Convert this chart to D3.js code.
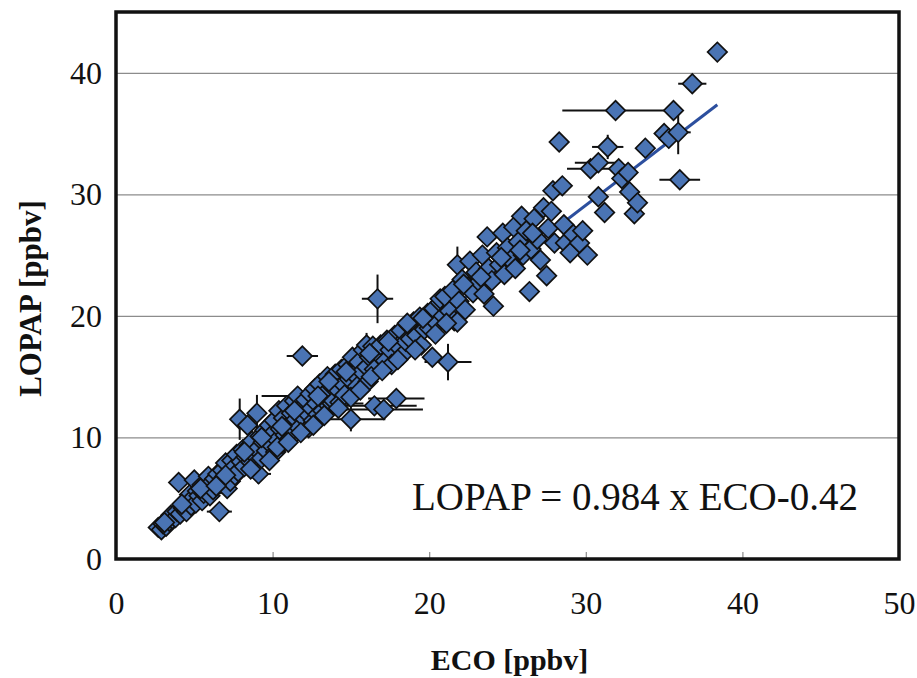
<!DOCTYPE html>
<html>
<head>
<meta charset="utf-8">
<script src="https://cdn.jsdelivr.net/npm/d3@7"></script>
<style>
  body { margin: 0; background: #fff; }
  text { font-family: "Liberation Serif", "Times New Roman", serif; fill: #111; }
</style>
</head>
<body>
<div id="chart"></div>
<script>
// ECO vs LOPAP values (ppbv); error bars only where they show
var eco = [2.7, 2.9, 3.0, 3.2, 3.4, 3.6, 3.5, 3.8, 3.9, 4.0, 4.1, 4.3, 4.4, 4.5, 4.6, 4.7, 4.8, 4.9, 5.0, 5.1,
  5.2, 5.3, 5.5, 5.5, 5.6, 5.8, 5.9, 6.0, 6.1, 6.2, 6.3, 6.5, 6.6, 6.7, 6.8, 6.9, 7.0, 7.1, 7.2, 7.3,
  7.4, 7.5, 7.6, 7.7, 7.8, 7.9, 8.0, 8.1, 8.2, 8.3, 8.4, 8.5, 8.6, 8.7, 8.8, 9.0, 9.0, 9.1, 9.2, 9.3,
  9.4, 9.5, 9.6, 9.7, 9.8, 9.9, 10.0, 10.1, 10.2, 10.3, 10.4, 10.5, 10.6, 10.7, 10.8, 10.9, 11.0, 11.1, 11.2, 11.3,
  11.4, 11.5, 11.6, 11.7, 11.8, 11.9, 12.0, 12.1, 12.2, 12.3, 12.4, 12.5, 12.6, 12.7, 12.8, 12.9, 13.0, 13.1, 13.2, 13.4,
  13.5, 13.6, 13.8, 13.8, 13.9, 14.0, 14.1, 14.3, 14.4, 14.5, 14.6, 14.8, 14.9, 15.0, 15.1, 15.2, 15.4, 15.5, 15.7, 15.8,
  16.0, 16.0, 16.1, 16.2, 16.4, 16.5, 16.5, 16.7, 16.8, 16.9, 17.1, 17.2, 17.3, 17.5, 17.6, 17.8, 17.9, 18.0, 18.2, 18.3,
  18.5, 18.7, 18.8, 19.0, 19.2, 19.4, 19.5, 19.7, 19.9, 20.0, 20.2, 20.3, 20.5, 20.7, 20.7, 20.9, 21.0, 21.2, 21.3, 21.5,
  21.6, 21.8, 21.8, 21.9, 22.1, 22.3, 22.5, 22.6, 22.8, 23.0, 23.2, 23.4, 23.5, 23.7, 23.8, 24.0, 24.1, 24.3, 24.5, 24.7,
  24.8, 25.0, 25.2, 25.4, 25.5, 25.7, 25.9, 26.0, 26.2, 26.4, 26.5, 26.7, 26.9, 27.1, 27.3, 27.5, 27.6, 27.9, 28.0, 28.3,
  28.5, 28.6, 28.7, 29.0, 29.2, 29.6, 29.8, 30.1, 30.3, 30.8, 30.8, 31.2, 31.4, 31.9, 32.1, 32.3, 32.7, 32.8, 33.1, 33.3,
  33.8, 35.0, 35.3, 35.6, 35.9, 36.0, 36.8, 38.4,
  3.1, 4.2, 5.4, 6.4, 7.0, 8.2, 9.3, 10.6, 11.4, 12.9, 13.6, 14.7, 16.2, 17.4, 18.6, 19.6, 22.2, 23.3, 24.6, 25.8, 26.6, 27.8,
  8.6, 9.8, 10.3, 11.0, 11.8, 12.6, 13.3, 14.2, 15.0, 15.6, 16.3, 17.0, 18.0, 19.1, 20.4, 21.1];
var lopap = [2.6, 2.4, 2.9, 2.7, 3.1, 3.3, 3.6, 3.4, 3.9, 6.3, 3.7, 4.2, 4.6, 3.9, 4.8, 5.3, 4.4, 5.0, 6.5, 4.6,
  5.6, 5.2, 6.1, 4.8, 5.4, 5.9, 6.8, 5.2, 6.3, 5.7, 6.6, 7.0, 3.9, 6.2, 7.3, 6.7, 7.9, 5.8, 7.0, 6.4,
  8.1, 7.5, 6.9, 8.6, 7.2, 11.5, 8.0, 9.0, 7.6, 8.4, 11.0, 9.3, 8.0, 9.7, 8.6, 12.0, 9.0, 7.0, 10.1, 8.3,
  9.6, 10.6, 8.9, 9.9, 11.0, 9.4, 10.3, 11.4, 8.8, 9.8, 12.2, 10.7, 9.5, 11.6, 10.2, 12.6, 11.0, 9.9, 12.0, 10.6,
  13.0, 11.5, 13.4, 10.8, 12.4, 16.7, 11.6, 13.1, 12.0, 10.8, 13.6, 12.4, 11.4, 14.0, 12.8, 11.9, 14.4, 13.2, 12.2, 13.7,
  15.0, 12.6, 14.2, 12.8, 13.0, 15.2, 14.0, 12.9, 15.6, 14.4, 13.5, 16.0, 14.8, 11.5, 16.6, 15.2, 14.2, 16.2, 15.4, 17.2,
  15.8, 17.6, 14.6, 16.6, 17.5, 15.6, 12.6, 21.4, 16.8, 17.6, 12.3, 16.3, 18.0, 17.2, 16.0, 18.4, 13.2, 17.5, 18.8, 16.8,
  17.9, 19.2, 18.1, 19.5, 18.4, 19.9, 17.6, 18.9, 20.2, 19.0, 16.6, 20.6, 19.4, 21.1, 21.4, 20.0, 21.6, 16.2, 20.4, 22.1,
  19.6, 24.2, 19.5, 21.2, 23.0, 20.5, 22.4, 24.5, 21.9, 23.6, 22.8, 25.0, 21.8, 26.5, 23.9, 22.9, 20.8, 25.2, 24.2, 26.8,
  23.4, 25.6, 24.6, 27.3, 23.9, 26.1, 28.2, 25.0, 27.0, 22.0, 25.5, 28.0, 26.3, 24.6, 28.9, 23.3, 27.2, 30.3, 26.0, 34.3,
  30.7, 27.5, 26.0, 25.2, 26.7, 26.0, 27.0, 25.0, 32.1, 32.6, 29.8, 28.5, 33.9, 36.9, 32.1, 31.3, 31.8, 30.2, 28.4, 29.3,
  33.8, 35.0, 34.6, 36.9, 35.1, 31.2, 39.1, 41.7,
  3.0, 4.5, 5.8, 6.0, 6.9, 8.8, 10.0, 10.9, 12.2, 13.4, 14.6, 15.4, 16.9, 17.9, 19.4, 19.8, 22.6, 23.2, 24.8, 25.4, 26.8, 28.6,
  7.4, 8.1, 9.2, 9.6, 10.4, 11.0, 11.8, 12.4, 13.3, 13.9, 15.0, 15.5, 16.4, 17.2, 18.5, 19.4];
var ecoErr = [0, 0, 0, 0, 0, 0, 0, 0, 0, 0, 0, 0, 0, 0, 0, 0, 0, 0, 0, 0,
  0, 0, 0, 0, 0, 0, 0, 0, 0, 0, 0, 0, 0.8, 0, 0, 0, 0, 0, 0, 0,
  0, 0, 0, 0, 0, 0, 0, 0, 0, 0, 0, 0, 0, 0, 0, 0, 0, 0.8, 0, 0,
  0, 0, 0, 0, 0, 0, 0, 0, 0, 0, 0, 0, 0, 0, 0, 0, 0, 0, 0, 0,
  0, 0, 2.3, 0, 0, 1.0, 0, 0, 0, 0, 0, 0, 0, 0, 0, 0, 0, 0, 0, 0,
  0, 0, 0, 2.0, 0, 0, 0, 0, 0, 0, 0, 0, 0, 2.2, 0, 0, 0, 0, 0, 0,
  0, 0, 0, 0, 0, 0, 2.7, 1.0, 0, 0, 2.5, 0, 0, 0, 0, 0, 1.8, 0, 0, 0,
  0, 0, 0, 0, 0, 0, 0, 0, 0, 0, 0, 0, 0, 0, 0, 0, 0, 1.5, 0, 0,
  0, 0, 0, 0, 0, 0, 0, 0, 0, 0, 0, 0, 0, 0, 0, 0, 0, 0, 0, 0,
  0, 0, 0, 0, 0, 0, 0, 0, 0, 0, 0, 0, 0, 0, 0, 0, 0, 0, 0, 0,
  0, 0, 0, 0, 0, 0, 0, 0, 1.5, 1.5, 0, 0, 1.0, 3.4, 0, 0, 0, 0, 0, 0,
  0, 0, 0, 0, 0.8, 1.3, 0.9, 0,
  0, 0, 0, 0, 0, 0, 0, 0, 0, 0, 0, 0, 0, 0, 0, 0, 0, 0, 0, 0, 0, 0,
  0, 0, 0, 0, 0, 0, 0, 0, 0, 0, 0, 0, 0, 0, 0, 0];
var lopapErr = [0, 0, 0, 0, 0, 0, 0, 0, 0, 0, 0, 0, 0, 0, 0, 0, 0, 0, 0, 0,
  0, 0, 0, 0, 0, 0, 0, 0, 0, 0, 0, 0, 0, 0, 0, 0, 0, 0, 0, 0,
  0, 0, 0, 0, 0, 1.7, 0, 0, 0, 0, 0, 0, 0, 0, 0, 1.5, 0, 0.8, 0, 0,
  0, 0, 0, 0, 0, 0, 0, 0, 0, 0, 0, 0, 0, 0, 0, 0, 0, 0, 0, 0,
  0, 0, 0, 0, 0, 0, 0, 0, 0, 0, 0, 0, 0, 0, 0, 0, 0, 0, 0, 0,
  0, 0, 0, 0, 0, 0, 0, 0, 0, 0, 0, 0, 0, 1.0, 0, 0, 0, 0, 0, 0,
  0, 1.0, 0, 0, 0, 0, 0, 2.0, 0, 0, 0, 0, 0, 0, 0, 0, 0, 0, 0, 0,
  0, 0, 0, 0, 0, 0, 0, 0, 0, 0, 0, 0, 0, 0, 0, 0, 0, 1.5, 0, 0,
  0, 1.5, 0, 0, 0, 0, 0, 0, 0, 0, 0, 0, 0, 0, 0, 0, 0.8, 0, 0, 0,
  0, 0, 0, 0, 0, 0, 0, 0, 0, 0, 0, 0, 0, 0, 0, 0, 0, 0, 0, 0,
  0, 0, 0, 0, 0, 0, 0, 0, 0, 0, 0, 0, 1.0, 0, 0, 0, 0, 0, 0, 0,
  0, 0, 0, 0, 1.8, 0, 0, 0,
  0, 0, 0, 0, 0, 0, 0, 0, 0, 0, 0, 0, 0, 0, 0, 0, 0, 0, 0, 0, 0, 0,
  0, 0, 0, 0, 0, 0, 0, 0, 0, 0, 0, 0, 0, 0, 0, 0];

var xTicks = [0, 10, 20, 30, 40, 50];
var yTicks = [0, 10, 20, 30, 40];
var slope = 0.984, intercept = -0.42;

var svgWidth = 917, svgHeight = 678;
var margin = { top: 12, right: 18, bottom: 119, left: 116 };
var chartWidth = svgWidth - margin.left - margin.right;
var chartHeight = svgHeight - margin.top - margin.bottom;

var svg = d3.select("#chart").append("svg")
  .attr("width", svgWidth)
  .attr("height", svgHeight);

var chartGroup = svg.append("g")
  .attr("transform", `translate(${margin.left}, ${margin.top})`);

var x = d3.scaleLinear().domain([0, 50]).range([0, chartWidth]);
var y = d3.scaleLinear().domain([0, 45]).range([chartHeight, 0]);

var points = eco.map((d, i) => ({ eco: d, lopap: lopap[i], ex: ecoErr[i], ey: lopapErr[i] }));

// gridlines
chartGroup.append("g")
  .call(d3.axisLeft(y).tickValues(yTicks.slice(1)).tickSize(-chartWidth).tickFormat(""))
  .call(g => g.select(".domain").remove())
  .selectAll("line").attr("stroke", "#8c8c8c").attr("stroke-width", 1.2);

// small x ticks pointing in
chartGroup.append("g")
  .attr("transform", `translate(0, ${chartHeight})`)
  .call(d3.axisBottom(x).tickValues(xTicks.slice(1, -1)).tickSize(-7).tickFormat(""))
  .call(g => g.select(".domain").remove())
  .selectAll("line").attr("stroke", "#8c8c8c").attr("stroke-width", 1.2);

// tick labels
chartGroup.append("g")
  .attr("transform", `translate(0, ${chartHeight})`)
  .call(d3.axisBottom(x).tickValues(xTicks).tickSize(0).tickPadding(32))
  .call(g => g.select(".domain").remove())
  .selectAll("text").style("font-size", "32px").style("font-family", "Liberation Serif").style("fill", "#111");

chartGroup.append("g")
  .call(d3.axisLeft(y).tickValues(yTicks).tickSize(0).tickPadding(14))
  .call(g => g.select(".domain").remove())
  .selectAll("text").style("font-size", "32px").style("font-family", "Liberation Serif").style("fill", "#111");

// regression line
chartGroup.append("line")
  .attr("x1", x(d3.min(eco))).attr("y1", y(slope * d3.min(eco) + intercept))
  .attr("x2", x(d3.max(eco))).attr("y2", y(slope * d3.max(eco) + intercept))
  .attr("stroke", "#2c4f9e").attr("stroke-width", 3);

// error bars
var errG = chartGroup.append("g").attr("stroke", "#111").attr("stroke-width", 2);
errG.selectAll(".ex").data(points.filter(d => d.ex > 0)).enter().append("line")
  .attr("x1", d => x(d.eco - d.ex)).attr("x2", d => x(d.eco + d.ex))
  .attr("y1", d => y(d.lopap)).attr("y2", d => y(d.lopap));
errG.selectAll(".ey").data(points.filter(d => d.ey > 0)).enter().append("line")
  .attr("x1", d => x(d.eco)).attr("x2", d => x(d.eco))
  .attr("y1", d => y(d.lopap - d.ey)).attr("y2", d => y(d.lopap + d.ey));

// diamonds
var diamond = d3.symbol().type(d3.symbolSquare).size(190);
chartGroup.selectAll(".pt").data(points).enter().append("path")
  .attr("d", diamond)
  .attr("transform", d => `translate(${x(d.eco)}, ${y(d.lopap)}) rotate(45)`)
  .attr("fill", "#4a74b4")
  .attr("stroke", "#111")
  .attr("stroke-width", 1.7);

// frame
chartGroup.append("rect")
  .attr("width", chartWidth).attr("height", chartHeight)
  .attr("fill", "none").attr("stroke", "#111").attr("stroke-width", 3.5);

// equation
chartGroup.append("text")
  .attr("x", 296).attr("y", 498)
  .style("font-size", "39px")
  .text("LOPAP = 0.984 x ECO-0.42");

// axis titles
chartGroup.append("text")
  .attr("x", chartWidth / 2 + 2).attr("y", chartHeight + 111)
  .attr("text-anchor", "middle")
  .style("font-size", "30px").style("font-weight", "bold")
  .text("ECO [ppbv]");

chartGroup.append("text")
  .attr("transform", "rotate(-90)")
  .attr("x", -(chartHeight / 2) - 13).attr("y", -margin.left + 41)
  .attr("text-anchor", "middle")
  .style("font-size", "31px").style("font-weight", "bold")
  .text("LOPAP [ppbv]");
</script>
</body>
</html>
